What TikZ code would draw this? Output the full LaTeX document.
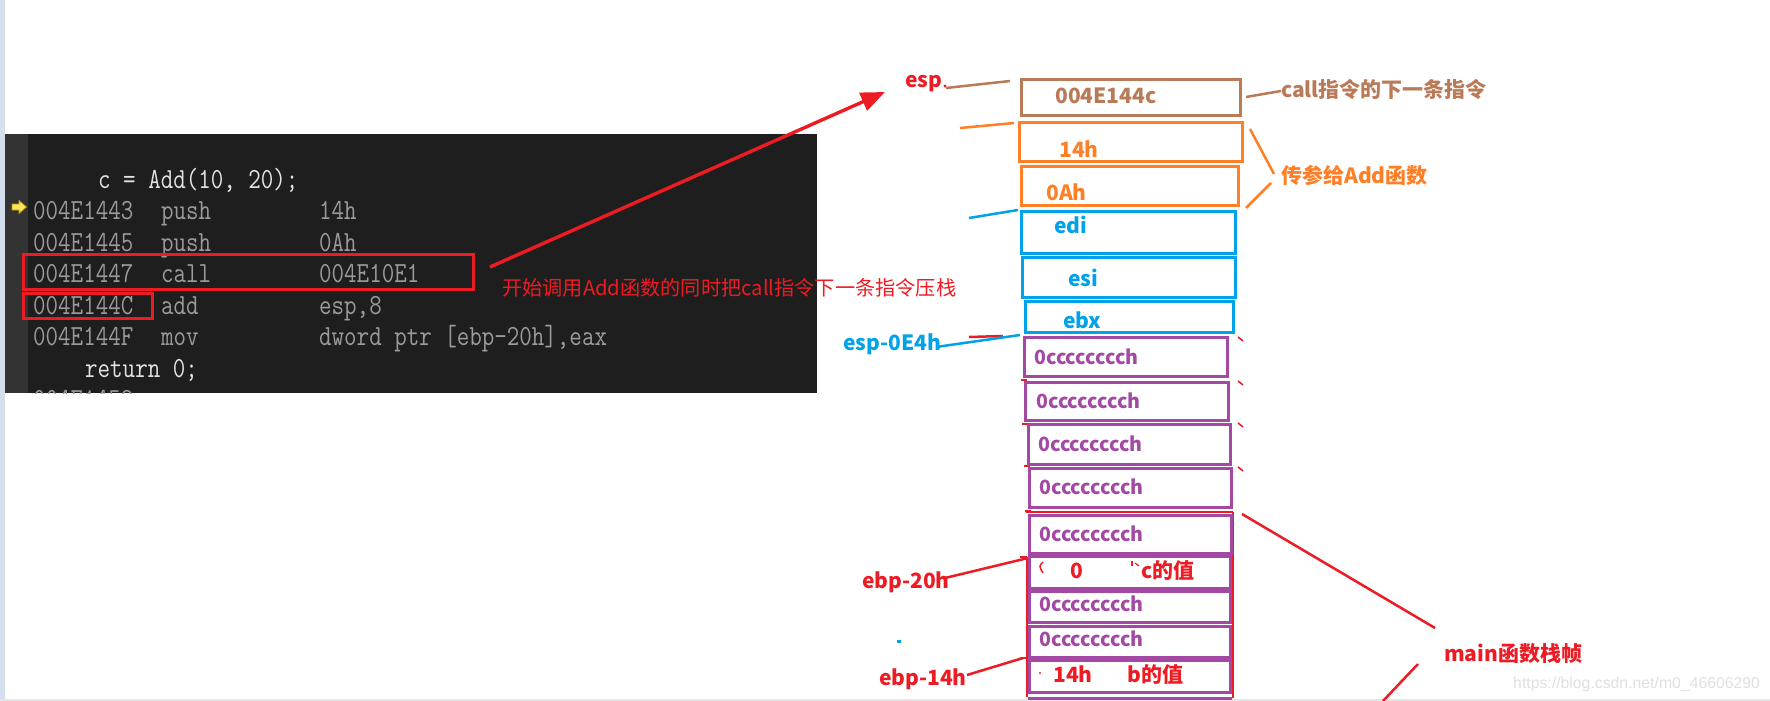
\documentclass[tikz,border=0pt]{standalone}
\usepackage{fontspec}
\usepackage{graphicx}
\newfontfamily\cjk{Noto Sans CJK SC}
\newfontfamily\wmfont{Liberation Sans}
\usetikzlibrary{arrows.meta}
\definecolor{pred}{HTML}{ED1C24}
\definecolor{porange}{HTML}{FF7F27}
\definecolor{pblue}{HTML}{00A2E8}
\definecolor{ppurple}{HTML}{A349A4}
\definecolor{pbrown}{HTML}{B97A57}
\definecolor{codebg}{HTML}{1E1E1E}
\definecolor{gutterc}{HTML}{333333}
\definecolor{codegray}{HTML}{9B9B9B}
\definecolor{codewhite}{HTML}{E2E2E2}
\definecolor{stripc}{HTML}{D5DEEC}
\definecolor{iconyel}{HTML}{FFE45C}
\definecolor{icondark}{HTML}{B89A00}
\tikzset{
  lbl/.style={inner sep=0, anchor=base west, font={\cjk\bfseries\fontsize{21}{21}\selectfont}},
  plbl/.style={lbl, font={\cjk\bfseries\fontsize{19.6}{19.6}\selectfont}},
  code/.style={inner sep=0, anchor=base west, text=codegray, font={\ttfamily\fontsize{24.3}{24.3}\selectfont}},
  cell/.style={draw, line width=3pt, inner sep=0},
  note/.style={line width=2.5pt},
}
\newcommand{\ct}[1]{\scalebox{1}[1.2]{#1}}
\begin{document}
\begin{tikzpicture}[x=1pt,y=-1pt]
\useasboundingbox (0,0) rectangle (1770,701);
\fill[white] (0,0) rectangle (1770,701);
\fill[stripc] (0,0) rectangle (5,701);
\draw[line width=1.5pt, black!10] (0,700) -- (1770,700);

% ---------------- code panel ----------------
\node[fill=codebg, minimum width=812, minimum height=259, inner sep=0, anchor=north west] (panel) at (5,134) {};
\fill[gutterc] (5,134) rectangle (28,393);
\begin{scope}
\clip (5,134) rectangle (817,393);
\node[code, text=codewhite] (l1) at (98,188) {\ct{c = Add(10, 20);}};
\node[code] (a2) at (33,219.5) {\ct{004E1443}};
\node[code] (m2) at (161,219.5) {\ct{push}};
\node[code] (o2) at (319,219.5) {\ct{14h}};
\node[code] (a3) at (33,251) {\ct{004E1445}};
\node[code] (m3) at (161,251) {\ct{push}};
\node[code] (o3) at (319,251) {\ct{0Ah}};
\node[code] (a4) at (33,282.5) {\ct{004E1447}};
\node[code] (m4) at (161,282.5) {\ct{call}};
\node[code] (o4) at (319,282.5) {\ct{004E10E1}};
\node[code] (a5) at (33,314) {\ct{004E144C}};
\node[code] (m5) at (161,314) {\ct{add}};
\node[code] (o5) at (319,314) {\ct{esp,8}};
\node[code] (a6) at (33,345.5) {\ct{004E144F}};
\node[code] (m6) at (161,345.5) {\ct{mov}};
\node[code] (o6) at (319,345.5) {\ct{dword ptr [ebp-20h],eax}};
\node[code, text=codewhite] (l7) at (85,377) {\ct{return 0;}};
\node[code] (a8) at (33,408.5) {\ct{004E1452}};
\end{scope}
% yellow current-line arrow
\filldraw[fill=iconyel, draw=icondark, line width=0.8pt]
  (12,204) -- (19,204) -- (19,200.5) -- (26.5,207) -- (19,213.5) -- (19,210) -- (12,210) -- cycle;

% red boxes in code
\node[cell, draw=pred, minimum width=450, minimum height=35] (cb1) at (248.5,272) {};
\node[cell, draw=pred, minimum width=129, minimum height=25] (cb2) at (88,306) {};

% red arrow
\coordinate (as) at (490,267);
\coordinate (ae) at (885,92);
\draw[pred, line width=3.4pt, -{Triangle[length=24pt,width=19pt]}] (as) -- (ae);
\node[inner sep=0, anchor=base west, text=pred, font={\cjk\fontsize{20.2}{20.2}\selectfont}] (ann) at (502,295) {开始调用Add函数的同时把call指令下一条指令压栈};

% ---------------- stack ----------------
\node[cell, draw=pbrown, minimum width=219, minimum height=36] (sret) at (1131,97.5) {};
\node[cell, draw=porange, minimum width=223, minimum height=39] (s14) at (1131,142) {};
\node[cell, draw=porange, minimum width=217, minimum height=39] (s0a) at (1130,186) {};
\node[cell, draw=pblue, minimum width=214, minimum height=42] (sedi) at (1128.5,232.5) {};
\node[cell, draw=pblue, minimum width=213, minimum height=40] (sesi) at (1129,277.5) {};
\node[cell, draw=pblue, minimum width=208, minimum height=31] (sebx) at (1129.5,317) {};

% red overlay lines under purple cells
\draw[pred, line width=2pt] (1027,557) -- (1027,697);
\draw[pred, line width=2pt] (1020,557) -- (1027,557);
\draw[pred, line width=2pt] (1020,658) -- (1027,658);
\draw[pred, line width=2pt] (1233,512) -- (1233,698);
\draw[pred, line width=2pt] (1026,512) -- (1233,512);
\foreach \yy/\xx in {380/1021,424/1022,466/1024,511/1025}
  \draw[pred, line width=1.5pt] (\xx,\yy) -- ++(6,0);
\foreach \yy in {337,381,423,467}
  \draw[pred, line width=1.5pt] (1238,\yy) -- ++(5,4);

\node[cell, draw=ppurple, minimum width=203, minimum height=39] (p1) at (1126,357) {};
\node[cell, draw=ppurple, minimum width=203, minimum height=38] (p2) at (1127,401.5) {};
\node[cell, draw=ppurple, minimum width=202, minimum height=40] (p3) at (1129.5,444.5) {};
\node[cell, draw=ppurple, minimum width=202, minimum height=39] (p4) at (1130.5,488) {};
\node[cell, draw=ppurple, minimum width=202, minimum height=38] (p5) at (1130.5,534.5) {};
\node[cell, draw=ppurple, minimum width=201, minimum height=32] (p6) at (1130,572.5) {};
\node[cell, draw=ppurple, minimum width=201, minimum height=31] (p7) at (1130,606.5) {};
\node[cell, draw=ppurple, minimum width=201, minimum height=31] (p8) at (1130,641.5) {};
\node[cell, draw=ppurple, minimum width=201, minimum height=32] (p9) at (1130,676) {};
\begin{scope}
\clip (0,0) rectangle (1770,699);
\node[cell, draw=ppurple, minimum width=201, minimum height=30, anchor=north] (p10) at (1130,696.5) {};
\end{scope}

% cell texts
\node[lbl, text=pbrown] (tret) at (1055,103) {004E144c};
\node[lbl, text=porange] (t14) at (1059,157) {14h};
\node[lbl, text=porange] (t0a) at (1046,200) {0Ah};
\node[lbl, text=pblue] (tedi) at (1054,233) {edi};
\node[lbl, text=pblue] (tesi) at (1068,286) {esi};
\node[lbl, text=pblue] (tebx) at (1063,328) {ebx};
\node[plbl, text=ppurple] (tp1) at (1034,364) {0cccccccch};
\node[plbl, text=ppurple] (tp2) at (1036,408) {0cccccccch};
\node[plbl, text=ppurple] (tp3) at (1038,451) {0cccccccch};
\node[plbl, text=ppurple] (tp4) at (1039,494) {0cccccccch};
\node[plbl, text=ppurple] (tp5) at (1039,541) {0cccccccch};
\node[lbl, text=pred] (tc0) at (1070,578) {0};
\node[lbl, text=pred] (tcv) at (1141,578) {c的值};
\node[plbl, text=ppurple] (tp7) at (1039,611) {0cccccccch};
\node[plbl, text=ppurple] (tp8) at (1039,646) {0cccccccch};
\node[lbl, text=pred] (tb14) at (1053,682) {14h};
\node[lbl, text=pred] (tbv) at (1127,682) {b的值};
% small leftover marks
\draw[pred, line width=1.5pt] (1043,562) .. controls (1039,566) .. (1043,573);
\draw[pred, line width=1.5pt] (1132,561) -- (1132,566);
\draw[pred, line width=1.2pt] (1135,563) -- (1139,566);
\fill[pred] (1040,673) circle (1.2);
\fill[pblue] (897,640) rectangle (901,643);

% ---------------- side labels ----------------
\node[lbl, text=pred] (lesp) at (905,88) {esp};
\node[lbl, text=pbrown] (lcall) at (1281,98) {call指令的下一条指令};
\node[lbl, text=porange] (lpar) at (1281,183) {传参给Add函数};
\node[lbl, text=pblue] (lesp2) at (843,350) {esp-0E4h};
\node[lbl, text=pred] (lebp20) at (862,588) {ebp-20h};
\node[lbl, text=pred] (lebp14) at (879,685) {ebp-14h};
\node[lbl, text=pred] (lmain) at (1444,661) {main函数栈帧};
\node[inner sep=0, anchor=base west, text=black!12, font={\wmfont\fontsize{15.8}{15.8}\selectfont}] (wm) at (1513,688) {https://blog.csdn.net/m0\_46606290};

% ---------------- annotation lines ----------------
\fill[pred] (945,86) circle (1.6);
\coordinate (b1) at (946,88); \coordinate (b2) at (1010,81);
\draw[pbrown, note] (b1) -- (b2);
\coordinate (c1) at (1246,97); \coordinate (c2) at (1281,91);
\draw[pbrown, note] (c1) -- (c2);
\coordinate (o1) at (960,128); \coordinate (o2) at (1014,123);
\draw[porange, note] (o1) -- (o2);
\coordinate (k1) at (1250,129); \coordinate (k2) at (1274,174);
\coordinate (k3) at (1271,183); \coordinate (k4) at (1246,208);
\draw[porange, note] (k1) -- (k2);
\draw[porange, note] (k3) -- (k4);
\coordinate (e1) at (969,218); \coordinate (e2) at (1018,210);
\draw[pblue, note] (e1) -- (e2);
\coordinate (r1) at (969,337); \coordinate (r2) at (1003,336);
\draw[pred, note] (r1) -- (r2);
\coordinate (q1) at (936,347); \coordinate (q2) at (1020,335);
\draw[pblue, note] (q1) -- (q2);
\coordinate (f1) at (945,578); \coordinate (f2) at (1028,558);
\draw[pred, note] (f1) -- (f2);
\coordinate (g1) at (967,675); \coordinate (g2) at (1023,658);
\draw[pred, note] (g1) -- (g2);
\coordinate (m1) at (1242,514); \coordinate (m2) at (1435,628);
\draw[pred, note] (m1) -- (m2);
\coordinate (n1) at (1418,664); \coordinate (n2) at (1383,701);
\draw[pred, note] (n1) -- (n2);
\end{tikzpicture}
\end{document}
